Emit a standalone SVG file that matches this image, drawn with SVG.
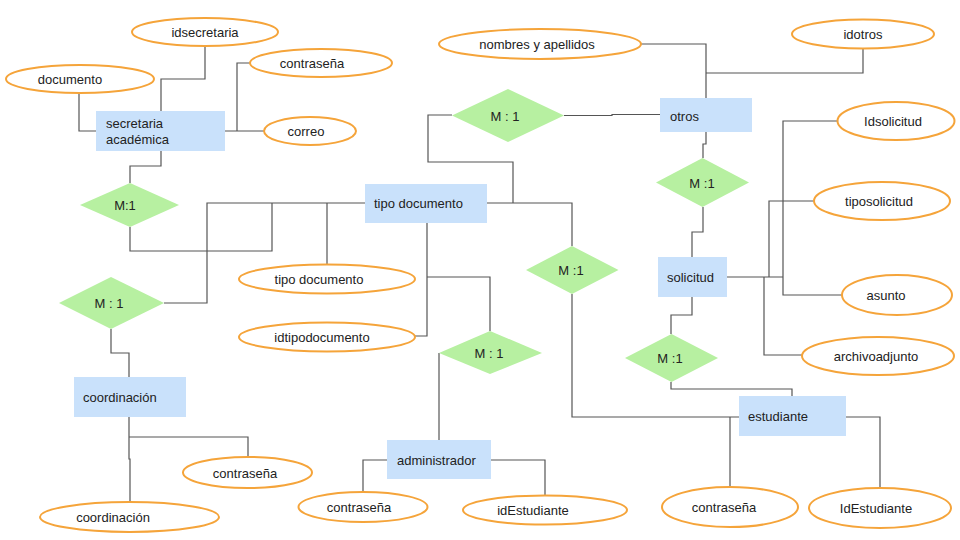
<svg xmlns="http://www.w3.org/2000/svg" width="960" height="540" viewBox="0 0 960 540">
<style>
.ent{fill:#c9e1fb;stroke:none}
.rel{fill:#b7f0a1;stroke:none}
.att{fill:#fff;stroke:#f5a43a;stroke-width:2}
.t{font-family:"Liberation Sans",Arial,sans-serif;font-size:13px;fill:#222}
.c{text-anchor:middle}
.ln{fill:none;stroke:#555;stroke-width:1.2}
</style>
<rect width="960" height="540" fill="#fff"/>
<g id="connectors">
<polyline class="ln" points="79,93 79,131 96,131"/>
<polyline class="ln" points="205,46 205,79 161,79 161,111"/>
<polyline class="ln" points="225,131 264,131"/>
<polyline class="ln" points="237,131 237,63 250,63"/>
<polyline class="ln" points="161,151 161,166 130,166 130,183"/>
<polyline class="ln" points="130,227 130,251 272,251 272,203"/>
<polyline class="ln" points="365,203 207,203 207,303 164,303"/>
<polyline class="ln" points="327,203 327,264"/>
<polyline class="ln" points="427,223 427,336 415,336"/>
<polyline class="ln" points="427,277 490,277 490,331"/>
<polyline class="ln" points="439,353 439,440"/>
<polyline class="ln" points="111,329 111,353 129,353 129,377"/>
<polyline class="ln" points="129,417 129,459 130,459 130,502"/>
<polyline class="ln" points="129,437 248,437 248,457"/>
<polyline class="ln" points="387,460 363,460 363,493"/>
<polyline class="ln" points="491,460 545,460 545,495"/>
<polyline class="ln" points="487,203 572,203 572,246"/>
<polyline class="ln" points="572,294 572,417 739,417"/>
<polyline class="ln" points="730,417 730,487"/>
<polyline class="ln" points="846,417 880,417 880,488"/>
<polyline class="ln" points="452,115 428,115 428,162 513,162 513,203"/>
<polyline class="ln" points="564,115.5 612,115.5 612,114.5 660,114.5"/>
<polyline class="ln" points="641,44 706,44 706,98"/>
<polyline class="ln" points="863,48 863,73 706,73"/>
<polyline class="ln" points="706,132 706,144 703,144 703,158"/>
<polyline class="ln" points="703,207 703,232 692,232 692,257"/>
<polyline class="ln" points="692,297 692,315 671,315 671,334"/>
<polyline class="ln" points="671,382 671,389 792,389 792,396"/>
<polyline class="ln" points="727,277 783,277"/>
<polyline class="ln" points="838,121 783,121 783,295 842,295"/>
<polyline class="ln" points="814,201 769,201 769,277"/>
<polyline class="ln" points="764,277 764,355 802,355"/>
</g>
<g id="secretaria"><rect class="ent" x="96" y="111" width="129" height="40"/><text class="t" x="106" y="128">secretaria</text><text class="t" x="106" y="144">académica</text></g>
<g id="idsecretaria"><ellipse class="att" cx="205" cy="32" rx="73" ry="14"/><text class="t c" x="205" y="37">idsecretaria</text></g>
<g id="documento"><ellipse class="att" cx="80" cy="79" rx="74" ry="14"/><text class="t c" x="70" y="84">documento</text></g>
<g id="contrasena1"><ellipse class="att" cx="321" cy="63" rx="71" ry="14"/><text class="t c" x="312" y="68">contraseña</text></g>
<g id="correo"><ellipse class="att" cx="310" cy="131" rx="46" ry="14"/><text class="t c" x="306" y="136">correo</text></g>
<g id="rel1"><polygon class="rel" points="130,183 179,205 130,227 80,205"/><text class="t c" x="125" y="210">M:1</text></g>
<g id="tipodoc"><rect class="ent" x="365" y="184" width="122" height="39"/><text class="t" x="374" y="208">tipo documento</text></g>
<g id="tipodocattr"><ellipse class="att" cx="327" cy="279" rx="88" ry="14.5"/><text class="t c" x="319" y="284">tipo documento</text></g>
<g id="idtipodoc"><ellipse class="att" cx="327" cy="337" rx="88" ry="14.5"/><text class="t c" x="322" y="342">idtipodocumento</text></g>
<g id="rel2"><polygon class="rel" points="111,277 164,303 111,329 59,303"/><text class="t c" x="109" y="308">M : 1</text></g>
<g id="coordinacion"><rect class="ent" x="74" y="377" width="112" height="40"/><text class="t" x="83" y="402">coordinación</text></g>
<g id="contrasena2"><ellipse class="att" cx="247.5" cy="472.5" rx="64.5" ry="15.5"/><text class="t c" x="245" y="478">contraseña</text></g>
<g id="coordattr"><ellipse class="att" cx="129.5" cy="517" rx="89.5" ry="15"/><text class="t c" x="113" y="522">coordinación</text></g>
<g id="rel3"><polygon class="rel" points="490,331 542,353 490,374 439,353"/><text class="t c" x="489" y="358">M : 1</text></g>
<g id="administrador"><rect class="ent" x="387" y="440" width="104" height="39"/><text class="t" x="397" y="465">administrador</text></g>
<g id="contrasena3"><ellipse class="att" cx="363" cy="507" rx="64.5" ry="15"/><text class="t c" x="359" y="512">contraseña</text></g>
<g id="idEstudiante"><ellipse class="att" cx="545" cy="510" rx="82" ry="14.5"/><text class="t c" x="533" y="515">idEstudiante</text></g>
<g id="rel4"><polygon class="rel" points="508,89 564,115.5 508,142 452,115.5"/><text class="t c" x="505" y="121">M : 1</text></g>
<g id="otros"><rect class="ent" x="660" y="98" width="92" height="34"/><text class="t" x="670" y="121">otros</text></g>
<g id="nombres"><ellipse class="att" cx="540" cy="44" rx="101" ry="15"/><text class="t c" x="537" y="49">nombres y apellidos</text></g>
<g id="idotros"><ellipse class="att" cx="863" cy="34" rx="71" ry="14.5"/><text class="t c" x="863" y="39">idotros</text></g>
<g id="rel5"><polygon class="rel" points="702.5,158 749,182.5 702.5,207 656,182.5"/><text class="t c" x="702" y="188">M :1</text></g>
<g id="solicitud"><rect class="ent" x="658" y="257" width="69" height="40"/><text class="t" x="667" y="282">solicitud</text></g>
<g id="idsolicitud"><ellipse class="att" cx="896" cy="121" rx="58.5" ry="19"/><text class="t c" x="893" y="126">Idsolicitud</text></g>
<g id="tiposolicitud"><ellipse class="att" cx="882" cy="201" rx="68" ry="19"/><text class="t c" x="879" y="206">tiposolicitud</text></g>
<g id="asunto"><ellipse class="att" cx="897" cy="295" rx="55" ry="20"/><text class="t c" x="886" y="300">asunto</text></g>
<g id="archivoadjunto"><ellipse class="att" cx="878" cy="356" rx="76" ry="19"/><text class="t c" x="876" y="361">archivoadjunto</text></g>
<g id="rel6"><polygon class="rel" points="572,246 618.5,270 572,294 526,270"/><text class="t c" x="571" y="275">M :1</text></g>
<g id="rel7"><polygon class="rel" points="671.5,334 718,358 671.5,382 625,358"/><text class="t c" x="670" y="363">M :1</text></g>
<g id="estudiante"><rect class="ent" x="739" y="396" width="107" height="40"/><text class="t" x="748" y="421">estudiante</text></g>
<g id="contrasena4"><ellipse class="att" cx="730" cy="507" rx="68" ry="20"/><text class="t c" x="724" y="512">contraseña</text></g>
<g id="IdEstudiante2"><ellipse class="att" cx="880" cy="508" rx="71" ry="20"/><text class="t c" x="876" y="513">IdEstudiante</text></g>
</svg>
